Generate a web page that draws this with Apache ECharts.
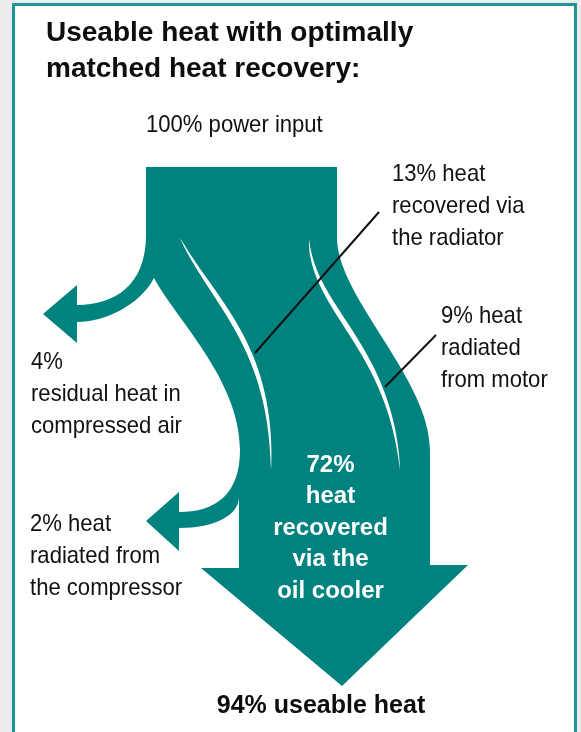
<!DOCTYPE html>
<html><head><meta charset="utf-8">
<script src="https://cdn.jsdelivr.net/npm/echarts@6/dist/echarts.min.js"></script>
<style>html,body{margin:0;padding:0;background:#ececec}#c{width:581px;height:732px}</style>
</head><body><div id="c"></div>
<script>
// ---------- data ----------
const flowNames  = ['power input', 'residual heat in compressed air', 'heat recovered via the radiator', 'heat radiated from motor', 'heat radiated from the compressor', 'heat recovered via the oil cooler', 'useable heat'];
const flowValues = [100, 4, 13, 9, 2, 72, 94];
const titleLines = ['Useable heat with optimally', 'matched heat recovery:'];
const powerLabel = [flowValues[0] + '% power input'];
const residualLabel = [flowValues[1] + '%', 'residual heat in', 'compressed air'];
const radiatorLabel = [flowValues[2] + '% heat', 'recovered via', 'the radiator'];
const motorLabel = [flowValues[3] + '% heat', 'radiated', 'from motor'];
const compressorLabel = [flowValues[4] + '% heat', 'radiated from', 'the compressor'];
const oilLabel = [flowValues[5] + '%', 'heat', 'recovered', 'via the', 'oil cooler'];
const useableLabel = [flowValues[6] + '% useable heat'];

// ---------- layout (drawing units = pixels of the 581x732 canvas) ----------
const TEAL = '#00827f';
const K = 1.91;               // drawing units per percent of flow
const TOP_L = 146, TOP_Y = 167;
const SHAFT_L = 239;

function renderItem(params, api) {
  const P = (x, y) => api.coord([x, y]);
  const topR = TOP_L + flowValues[0] * K;      // 100% wide block
  const shaftR = SHAFT_L + flowValues[0] * K;  // main arrow shaft
  const cmds = [
    ['M', TOP_L, TOP_Y], ['L', TOP_L, 235],
    ['C', TOP_L, 285, 115, 305, 77, 305],
    ['L', 77, 285], ['L', 43, 314], ['L', 77, 343], ['L', 77, 322],
    ['C', 105, 322, 140, 305, 154, 278],
    ['C', 175, 318, SHAFT_L + 1, 380, SHAFT_L + 1, 450],
    ['C', SHAFT_L + 1, 495, 215, 512, 179, 512],
    ['L', 179, 492], ['L', 146, 521], ['L', 179, 551], ['L', 179, 528],
    ['C', 215, 528, SHAFT_L, 515, SHAFT_L, 497],
    ['L', SHAFT_L, 568], ['L', 201, 568], ['L', 342, 686], ['L', 468, 565], ['L', shaftR, 565],
    ['L', shaftR, 450],
    ['C', shaftR, 380, topR + 3, 300, topR, 240],
    ['L', topR, TOP_Y], ['Z']
  ];
  let d = '';
  cmds.forEach(c => {
    d += c[0];
    for (let i = 1; i < c.length; i += 2) { const p = P(c[i], c[i + 1]); d += ' ' + p[0].toFixed(2) + ' ' + p[1].toFixed(2); }
    d += ' ';
  });

  function bez(a, b, c, e, t) { const u = 1 - t; return u*u*u*a + 3*u*u*t*b + 3*u*t*t*c + t*t*t*e; }
  function dbez(a, b, c, e, t) { const u = 1 - t; return 3*u*u*(b - a) + 6*u*t*(c - b) + 3*t*t*(e - c); }
  function taper(p0, c1, c2, p3, maxW) {
    const L = [], R = [], n = 60;
    for (let i = 0; i <= n; i++) {
      const t = i / n;
      const x = bez(p0[0], c1[0], c2[0], p3[0], t), y = bez(p0[1], c1[1], c2[1], p3[1], t);
      const dx = dbez(p0[0], c1[0], c2[0], p3[0], t), dy = dbez(p0[1], c1[1], c2[1], p3[1], t);
      const len = Math.hypot(dx, dy) || 1;
      const w = maxW * Math.pow(Math.sin(Math.PI * t), 0.7) / 2;
      L.push(P(x - dy / len * w, y + dx / len * w));
      R.push(P(x + dy / len * w, y - dx / len * w));
    }
    return L.concat(R.reverse());
  }

  const children = [];
  // frame
  const f0 = P(13.5, 4.5), f1 = P(575.5, 760);
  children.push({ type: 'rect', shape: { x: f0[0], y: f0[1], width: f1[0] - f0[0], height: f1[1] - f0[1] },
    style: { fill: '#fff', stroke: '#1f9597', lineWidth: 3 } });
  // flow body
  children.push({ type: 'path', shape: { pathData: d }, style: { fill: TEAL } });
  // white separators
  children.push({ type: 'polygon', shape: { points: taper([180, 238], [215, 305], [272, 345], [271, 470], 5) }, style: { fill: '#fff' } });
  children.push({ type: 'polygon', shape: { points: taper([309, 239], [312, 310], [390, 345], [400, 470], 5) }, style: { fill: '#fff' } });
  // leader lines
  const lines = [[379, 212, 255, 353], [436, 335, 385, 387]];
  lines.forEach(l => { const a = P(l[0], l[1]), b = P(l[2], l[3]);
    children.push({ type: 'line', shape: { x1: a[0], y1: a[1], x2: b[0], y2: b[1] }, style: { stroke: '#111', lineWidth: 2 } }); });

  // texts
  const REG = '24px "Liberation Sans", Arial, sans-serif';
  function addLines(arr, x, y0, pitch, font, fill, align, sx) {
    arr.forEach((s, i) => {
      const p = P(x, y0 + i * pitch);
      children.push({ type: 'text', x: p[0], y: p[1], scaleX: sx, scaleY: 1,
        style: { text: s, font: font, fill: fill, align: align, verticalAlign: 'middle', textAlign: align, textVerticalAlign: 'middle' } });
    });
  }
  addLines(titleLines, 46, 33, 36, 'bold 28px "Liberation Sans", Arial, sans-serif', '#0d0d0d', 'left', 1);
  addLines(powerLabel, 146, 125, 32, REG, '#111', 'left', 0.92);
  addLines(radiatorLabel, 392, 174, 32, REG, '#111', 'left', 0.92);
  addLines(motorLabel, 441, 316.5, 32, REG, '#111', 'left', 0.92);
  addLines(residualLabel, 31, 362.5, 32, REG, '#111', 'left', 0.92);
  addLines(compressorLabel, 30, 524, 32, REG, '#111', 'left', 0.92);
  addLines(oilLabel, 330.5, 465, 31.5, 'bold 24px "Liberation Sans", Arial, sans-serif', '#fff', 'center', 1);
  addLines(useableLabel, 321, 706, 32, 'bold 25px "Liberation Sans", Arial, sans-serif', '#0d0d0d', 'center', 1);

  return { type: 'group', children: children };
}

const chart = echarts.init(document.getElementById('c'), null, { renderer: 'canvas' });
chart.setOption({
  backgroundColor: '#ececec',
  animation: false,
  grid: { left: 0, right: 0, top: 0, bottom: 0 },
  xAxis: { type: 'value', min: 0, max: 581, show: false },
  yAxis: { type: 'value', min: 0, max: 732, inverse: true, show: false },
  series: [{
    type: 'custom', name: 'heat flow', silent: true, clip: false,
    renderItem: renderItem,
    data: [[0, 0]]
  }]
});
</script>
</body></html>
